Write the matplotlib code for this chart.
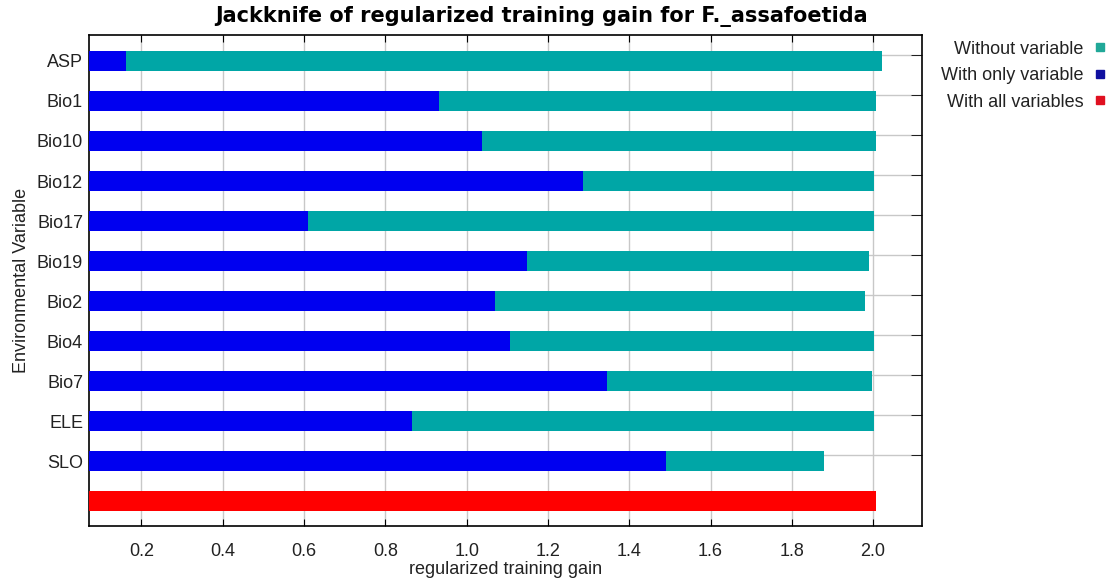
import matplotlib.pyplot as plt
from matplotlib.lines import Line2D
import numpy as np

plt.rcParams['font.family'] = ['Liberation Sans', 'DejaVu Sans']

variables = ["ASP", "Bio1", "Bio10", "Bio12", "Bio17", "Bio19",
             "Bio2", "Bio4", "Bio7", "ELE", "SLO"]
without_var = [2.023, 2.007, 2.007, 2.002, 2.002, 1.990,
               1.980, 2.002, 1.998, 2.002, 1.880]
only_var = [0.161, 0.932, 1.039, 1.286, 0.610, 1.149,
            1.071, 1.106, 1.346, 0.866, 1.490]
all_vars = 2.007

teal = "#00A6A6"
blue = "#0000F0"
red = "#FF0000"

fig = plt.figure(figsize=(11.08, 5.83), dpi=100)
ax = fig.add_axes([0.080, 0.098, 0.752, 0.842])

pos = np.arange(len(variables))
h = 0.48
ax.barh(pos, without_var, height=h, color=teal, zorder=2)
ax.barh(pos, only_var, height=h, color=blue, zorder=3)
ax.barh(len(variables), all_vars, height=h, color=red, zorder=3)

ax.set_xlim(0.07, 2.12)
ax.set_ylim(len(variables) + 0.62, -0.65)

ticks = np.arange(0.2, 2.01, 0.2)
ax.set_xticks(ticks)
ax.set_xticklabels(["%.1f" % v for v in ticks], fontsize=13, color="#222222")
ax.set_yticks(pos)
ax.set_yticklabels(variables, fontsize=13, color="#222222")
ax.set_yticks(pos - 0.15, minor=True)

ax.tick_params(axis="x", which="major", direction="in", top=True, length=5, pad=12.5)
ax.tick_params(axis="y", which="major", length=0, pad=4)
ax.tick_params(axis="y", which="minor", left=False, right=True, direction="in", length=8)

ax.grid(axis="x", which="major", color="#c8c8c8", linewidth=1, zorder=0)
ax.grid(axis="y", which="minor", color="#c8c8c8", linewidth=1, zorder=0)
ax.set_axisbelow(True)
for s in ax.spines.values():
    s.set_linewidth(1.2)

# title sits a bit right of the plot centre in the original
fig.text(0.489, 0.972, "Jackknife of regularized training gain for F._assafoetida",
         fontsize=15, fontweight="bold", family="DejaVu Sans", ha="center", va="center")
ax.set_xlabel("regularized training gain", fontsize=13, labelpad=0.5, color="#222222")
ax.set_ylabel("Environmental Variable", fontsize=13, labelpad=5, color="#222222")

handles = [Line2D([], [], linestyle="none", marker="s", markersize=5.5, color=c)
           for c in ["#20A898", "#1010A0", "#E01020"]]
fig.legend(handles, ["Without variable", "With only variable", "With all variables"],
           loc="upper right", bbox_to_anchor=(0.999, 0.930), frameon=False,
           markerfirst=False, fontsize=13, handletextpad=0.5, labelspacing=0.52,
           handlelength=0.8, borderaxespad=0, borderpad=0, labelcolor="#222222")

fig.savefig("out.png", dpi=100)
